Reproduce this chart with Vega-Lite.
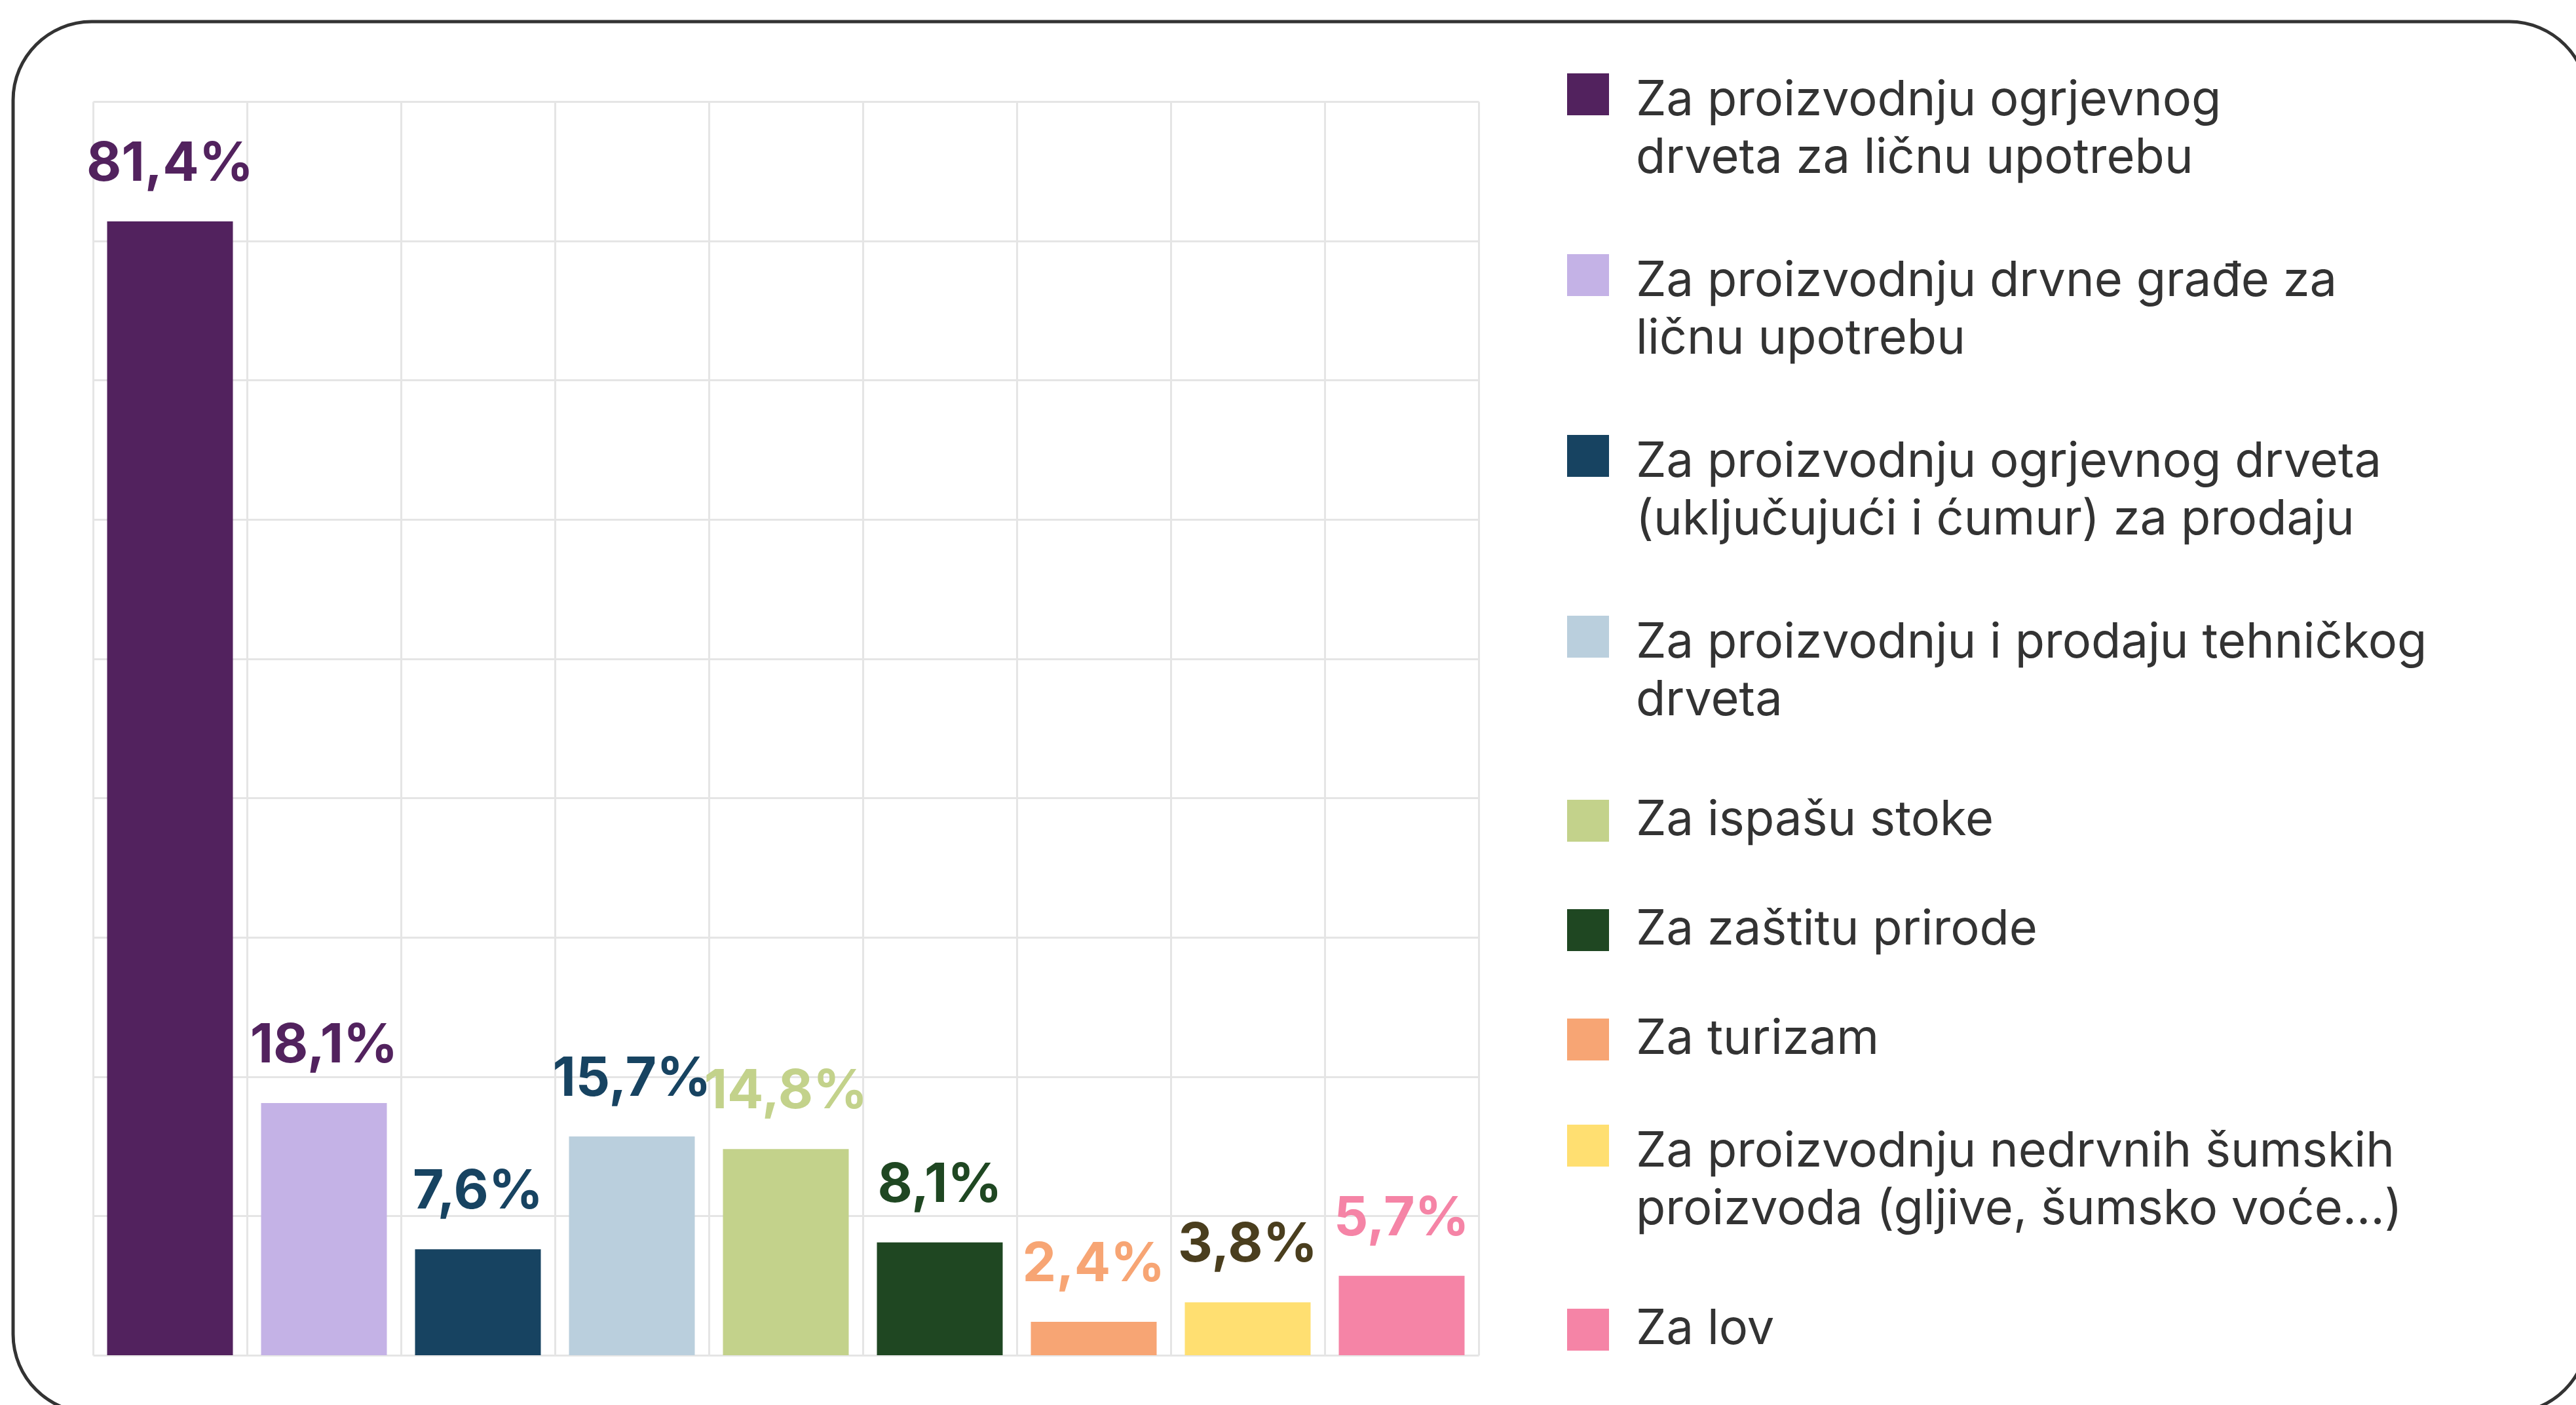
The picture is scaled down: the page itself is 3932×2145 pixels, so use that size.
{
  "$schema": "https://vega.github.io/schema/vega-lite/v6.json",
  "autosize": "none",
  "width": 3930,
  "height": 2124,
  "padding": {"left": 20, "top": 33, "right": -18, "bottom": -12},
  "background": "white",
  "config": {
    "font": "Inter",
    "view": {"stroke": "#333333", "strokeWidth": 5, "cornerRadius": 120, "fill": "white"},
    "locale": {"number": {"decimal": ",", "thousands": ".", "grouping": [3], "currency": ["", " €"]}},
    "style": {"guide-label": {"lineHeight": 88}}
  },
  "data": {
    "values": [
      {"cat": "Za proizvodnju ogrjevnog drveta za ličnu upotrebu", "value": 0.814},
      {"cat": "Za proizvodnju drvne građe za ličnu upotrebu", "value": 0.181},
      {"cat": "Za proizvodnju ogrjevnog drveta (uključujući i ćumur) za prodaju", "value": 0.076},
      {"cat": "Za proizvodnju i prodaju tehničkog drveta", "value": 0.157},
      {"cat": "Za ispašu stoke", "value": 0.148},
      {"cat": "Za zaštitu prirode", "value": 0.081},
      {"cat": "Za turizam", "value": 0.024},
      {"cat": "Za proizvodnju nedrvnih šumskih proizvoda (gljive, šumsko voće...)", "value": 0.038},
      {"cat": "Za lov", "value": 0.057}
    ]
  },
  "encoding": {
    "x": {
      "field": "cat",
      "type": "nominal",
      "scale": {
        "domain": [
          "Za proizvodnju ogrjevnog drveta za ličnu upotrebu",
          "Za proizvodnju drvne građe za ličnu upotrebu",
          "Za proizvodnju ogrjevnog drveta (uključujući i ćumur) za prodaju",
          "Za proizvodnju i prodaju tehničkog drveta",
          "Za ispašu stoke",
          "Za zaštitu prirode",
          "Za turizam",
          "Za proizvodnju nedrvnih šumskih proizvoda (gljive, šumsko voće...)",
          "Za lov"
        ],
        "range": [122, 2237],
        "paddingInner": 0,
        "paddingOuter": 0
      },
      "axis": {
        "orient": "top",
        "grid": true,
        "tickBand": "extent",
        "gridColor": "#e5e5e5",
        "gridWidth": 3,
        "labels": false,
        "ticks": false,
        "domain": false,
        "title": null
      }
    },
    "y": {
      "field": "value",
      "type": "quantitative",
      "scale": {"domain": [0, 0.9], "range": [2036, 122], "nice": false},
      "axis": {
        "values": [0, 0.1, 0.2, 0.3, 0.4, 0.5, 0.6, 0.7, 0.8, 0.9],
        "grid": true,
        "gridColor": "#e5e5e5",
        "gridWidth": 3,
        "labels": false,
        "ticks": false,
        "domain": false,
        "title": null
      }
    }
  },
  "layer": [
    {
      "mark": {"type": "bar", "width": {"band": 0.817}},
      "encoding": {
        "color": {
          "field": "cat",
          "type": "nominal",
          "scale": {
            "domain": [
              "Za proizvodnju ogrjevnog drveta za ličnu upotrebu",
              "Za proizvodnju drvne građe za ličnu upotrebu",
              "Za proizvodnju ogrjevnog drveta (uključujući i ćumur) za prodaju",
              "Za proizvodnju i prodaju tehničkog drveta",
              "Za ispašu stoke",
              "Za zaštitu prirode",
              "Za turizam",
              "Za proizvodnju nedrvnih šumskih proizvoda (gljive, šumsko voće...)",
              "Za lov"
            ],
            "range": ["#52225e", "#c4b2e6", "#174361", "#bacfdd", "#c3d28b", "#1f4722", "#f7a574", "#ffdf71", "#f584a6"]
          },
          "legend": {
            "orient": "none",
            "legendX": 2367,
            "legendY": 84,
            "title": null,
            "padding": 0,
            "symbolType": {"expr": "length(datum.label) > 25 ? 'M-1,-1.31H1V0.69H-1ZM0,4.4' : 'square'"},
            "symbolSize": 4096,
            "symbolStrokeWidth": 0,
            "labelFont": "Inter",
            "labelFontSize": 74,
            "labelColor": "#333333",
            "labelOffset": 36,
            "labelLimit": 1500,
            "rowPadding": 93,
            "labelExpr": "datum.label == 'Za proizvodnju ogrjevnog drveta za ličnu upotrebu' ? ['Za proizvodnju ogrjevnog', 'drveta za ličnu upotrebu'] : datum.label == 'Za proizvodnju drvne građe za ličnu upotrebu' ? ['Za proizvodnju drvne građe za', 'ličnu upotrebu'] : datum.label == 'Za proizvodnju ogrjevnog drveta (uključujući i ćumur) za prodaju' ? ['Za proizvodnju ogrjevnog drveta', '(uključujući i ćumur) za prodaju'] : datum.label == 'Za proizvodnju i prodaju tehničkog drveta' ? ['Za proizvodnju i prodaju tehničkog', 'drveta'] : datum.label == 'Za proizvodnju nedrvnih šumskih proizvoda (gljive, šumsko voće...)' ? ['Za proizvodnju nedrvnih šumskih', 'proizvoda (gljive, šumsko voće...)'] : datum.label"
          }
        }
      }
    },
    {
      "mark": {"type": "text", "baseline": "alphabetic", "dy": -62, "fontSize": 82, "fontWeight": "bold", "font": "Inter"},
      "encoding": {
        "text": {"field": "value", "type": "quantitative", "format": ".1%"},
        "color": {
          "field": "cat",
          "type": "nominal",
          "scale": {
            "domain": [
              "Za proizvodnju ogrjevnog drveta za ličnu upotrebu",
              "Za proizvodnju drvne građe za ličnu upotrebu",
              "Za proizvodnju ogrjevnog drveta (uključujući i ćumur) za prodaju",
              "Za proizvodnju i prodaju tehničkog drveta",
              "Za ispašu stoke",
              "Za zaštitu prirode",
              "Za turizam",
              "Za proizvodnju nedrvnih šumskih proizvoda (gljive, šumsko voće...)",
              "Za lov"
            ],
            "range": ["#52225e", "#52225e", "#174361", "#174361", "#c3d28b", "#1f4722", "#f7a574", "#4a3e1e", "#f584a6"]
          },
          "legend": null
        }
      }
    }
  ],
  "resolve": {"scale": {"color": "independent"}}
}
